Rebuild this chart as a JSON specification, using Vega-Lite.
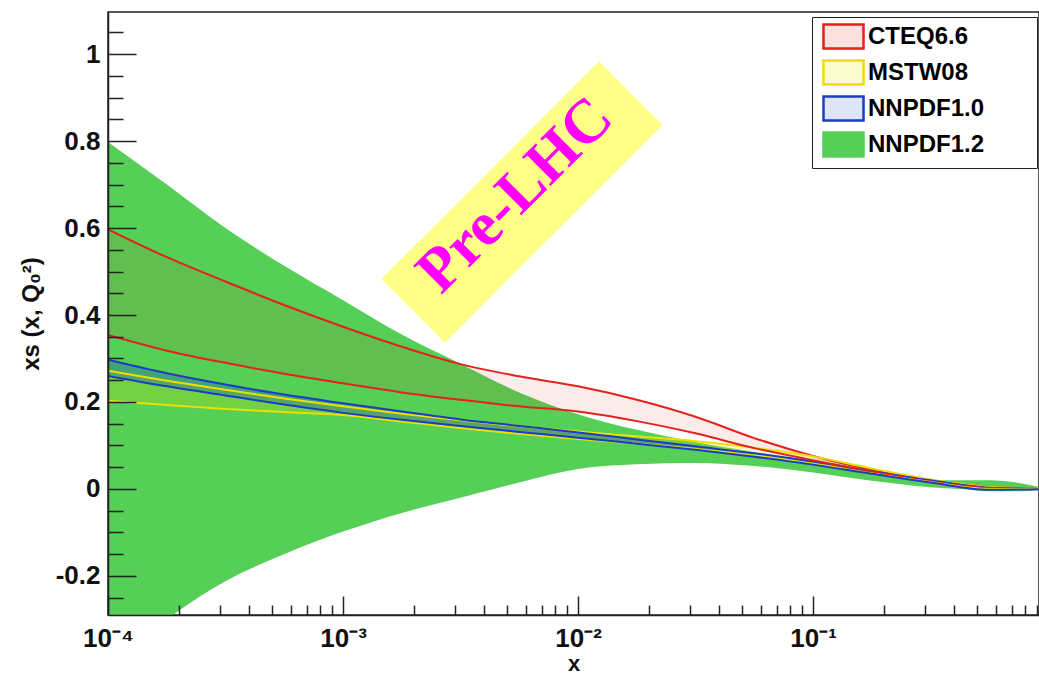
{
  "$schema": "https://vega.github.io/schema/vega-lite/v6.json",
  "width": 931,
  "height": 603,
  "autosize": {"type": "none"},
  "padding": {"left": 108, "top": 12, "right": 0, "bottom": 60},
  "background": "white",
  "config": {
    "view": {"stroke": "#222", "strokeWidth": 1.5},
    "font": "Liberation Sans",
    "legend": {
      "orient": "none", "legendX": 704, "legendY": 5,
      "padding": 6, "strokeColor": "#222", "fillColor": "#ffffff",
      "symbolSize": 576, "symbolStrokeWidth": 2.5, "symbolOffset": 12,
      "labelFont": "Liberation Sans", "labelFontWeight": "bold", "labelFontSize": 24, "labelColor": "#000",
      "labelOffset": 11, "rowPadding": 1, "labelLimit": 400
    }
  },
  "datasets": {
    "bands": [
      {"s": "CTEQ6.6", "x": 0.0001, "lo": 0.354, "hi": 0.597},
      {"s": "CTEQ6.6", "x": 0.000178, "lo": 0.318, "hi": 0.533},
      {"s": "CTEQ6.6", "x": 0.000316, "lo": 0.290, "hi": 0.477},
      {"s": "CTEQ6.6", "x": 0.000562, "lo": 0.265, "hi": 0.423},
      {"s": "CTEQ6.6", "x": 0.001, "lo": 0.243, "hi": 0.373},
      {"s": "CTEQ6.6", "x": 0.00178, "lo": 0.222, "hi": 0.327},
      {"s": "CTEQ6.6", "x": 0.00316, "lo": 0.205, "hi": 0.287},
      {"s": "CTEQ6.6", "x": 0.00562, "lo": 0.190, "hi": 0.259},
      {"s": "CTEQ6.6", "x": 0.01, "lo": 0.178, "hi": 0.236},
      {"s": "CTEQ6.6", "x": 0.0178, "lo": 0.156, "hi": 0.205},
      {"s": "CTEQ6.6", "x": 0.0316, "lo": 0.128, "hi": 0.166},
      {"s": "CTEQ6.6", "x": 0.0562, "lo": 0.094, "hi": 0.117},
      {"s": "CTEQ6.6", "x": 0.1, "lo": 0.066, "hi": 0.076},
      {"s": "CTEQ6.6", "x": 0.178, "lo": 0.040, "hi": 0.044},
      {"s": "CTEQ6.6", "x": 0.316, "lo": 0.017, "hi": 0.020},
      {"s": "CTEQ6.6", "x": 0.562, "lo": 0.002, "hi": 0.005},
      {"s": "CTEQ6.6", "x": 1, "lo": 0, "hi": 0},
      {"s": "MSTW08", "x": 0.0001, "lo": 0.203, "hi": 0.272},
      {"s": "MSTW08", "x": 0.000178, "lo": 0.193, "hi": 0.249},
      {"s": "MSTW08", "x": 0.000316, "lo": 0.184, "hi": 0.228},
      {"s": "MSTW08", "x": 0.000562, "lo": 0.177, "hi": 0.208},
      {"s": "MSTW08", "x": 0.001, "lo": 0.170, "hi": 0.190},
      {"s": "MSTW08", "x": 0.00178, "lo": 0.155, "hi": 0.173},
      {"s": "MSTW08", "x": 0.00316, "lo": 0.140, "hi": 0.158},
      {"s": "MSTW08", "x": 0.00562, "lo": 0.127, "hi": 0.144},
      {"s": "MSTW08", "x": 0.01, "lo": 0.115, "hi": 0.132},
      {"s": "MSTW08", "x": 0.0178, "lo": 0.104, "hi": 0.121},
      {"s": "MSTW08", "x": 0.0316, "lo": 0.092, "hi": 0.110},
      {"s": "MSTW08", "x": 0.0562, "lo": 0.077, "hi": 0.095},
      {"s": "MSTW08", "x": 0.1, "lo": 0.058, "hi": 0.075},
      {"s": "MSTW08", "x": 0.178, "lo": 0.036, "hi": 0.047},
      {"s": "MSTW08", "x": 0.316, "lo": 0.016, "hi": 0.022},
      {"s": "MSTW08", "x": 0.562, "lo": 0.000, "hi": 0.005},
      {"s": "MSTW08", "x": 1, "lo": 0, "hi": 0},
      {"s": "NNPDF1.0", "x": 0.0001, "lo": 0.260, "hi": 0.297},
      {"s": "NNPDF1.0", "x": 0.000178, "lo": 0.236, "hi": 0.266},
      {"s": "NNPDF1.0", "x": 0.000316, "lo": 0.215, "hi": 0.240},
      {"s": "NNPDF1.0", "x": 0.000562, "lo": 0.194, "hi": 0.217},
      {"s": "NNPDF1.0", "x": 0.001, "lo": 0.175, "hi": 0.197},
      {"s": "NNPDF1.0", "x": 0.00178, "lo": 0.159, "hi": 0.178},
      {"s": "NNPDF1.0", "x": 0.00316, "lo": 0.145, "hi": 0.160},
      {"s": "NNPDF1.0", "x": 0.00562, "lo": 0.131, "hi": 0.145},
      {"s": "NNPDF1.0", "x": 0.01, "lo": 0.118, "hi": 0.130},
      {"s": "NNPDF1.0", "x": 0.0178, "lo": 0.104, "hi": 0.114},
      {"s": "NNPDF1.0", "x": 0.0316, "lo": 0.090, "hi": 0.098},
      {"s": "NNPDF1.0", "x": 0.0562, "lo": 0.074, "hi": 0.082},
      {"s": "NNPDF1.0", "x": 0.1, "lo": 0.056, "hi": 0.063},
      {"s": "NNPDF1.0", "x": 0.178, "lo": 0.035, "hi": 0.041},
      {"s": "NNPDF1.0", "x": 0.316, "lo": 0.015, "hi": 0.020},
      {"s": "NNPDF1.0", "x": 0.562, "lo": -0.002, "hi": 0.003},
      {"s": "NNPDF1.0", "x": 1, "lo": 0, "hi": 0},
      {"s": "NNPDF1.2", "x": 0.0001, "lo": -0.42, "hi": 0.798},
      {"s": "NNPDF1.2", "x": 0.000178, "lo": -0.30, "hi": 0.700},
      {"s": "NNPDF1.2", "x": 0.000316, "lo": -0.212, "hi": 0.600},
      {"s": "NNPDF1.2", "x": 0.000562, "lo": -0.150, "hi": 0.513},
      {"s": "NNPDF1.2", "x": 0.001, "lo": -0.098, "hi": 0.434},
      {"s": "NNPDF1.2", "x": 0.00178, "lo": -0.055, "hi": 0.355},
      {"s": "NNPDF1.2", "x": 0.00316, "lo": -0.020, "hi": 0.288},
      {"s": "NNPDF1.2", "x": 0.00562, "lo": 0.015, "hi": 0.222},
      {"s": "NNPDF1.2", "x": 0.01, "lo": 0.046, "hi": 0.172},
      {"s": "NNPDF1.2", "x": 0.0178, "lo": 0.057, "hi": 0.136},
      {"s": "NNPDF1.2", "x": 0.0316, "lo": 0.060, "hi": 0.108},
      {"s": "NNPDF1.2", "x": 0.0562, "lo": 0.053, "hi": 0.085},
      {"s": "NNPDF1.2", "x": 0.1, "lo": 0.038, "hi": 0.062},
      {"s": "NNPDF1.2", "x": 0.178, "lo": 0.019, "hi": 0.040},
      {"s": "NNPDF1.2", "x": 0.316, "lo": 0.004, "hi": 0.022},
      {"s": "NNPDF1.2", "x": 0.422, "lo": 0.000, "hi": 0.020},
      {"s": "NNPDF1.2", "x": 0.562, "lo": -0.005, "hi": 0.020},
      {"s": "NNPDF1.2", "x": 0.75, "lo": -0.005, "hi": 0.014},
      {"s": "NNPDF1.2", "x": 1, "lo": -0.001, "hi": 0.0}
    ],
    "note": [{"x": 0.005777, "y": 0.6598, "label": "Pre-LHC"}]
  },
  "resolve": {"axis": {"x": "independent", "y": "independent"}},
  "layer": [
    {
      "data": {"name": "bands"},
      "transform": [{"filter": "datum.s === 'NNPDF1.2'"}],
      "mark": {"type": "area", "interpolate": "monotone", "clip": true, "opacity": 1},
      "encoding": {
        "x": {
          "field": "x", "type": "quantitative",
          "scale": {"type": "log", "domain": [0.0001, 0.9156], "nice": false},
          "axis": {
            "orient": "bottom", "values": [0.0001, 0.001, 0.01, 0.1],
            "labelExpr": "datum.value < 0.0005 ? '10⁻⁴' : datum.value < 0.005 ? '10⁻³' : datum.value < 0.05 ? '10⁻²' : '10⁻¹'",
            "labelFlush": false, "labelFont": "Liberation Sans", "labelFontWeight": "bold", "labelFontSize": 26, "labelColor": "#111",
            "labelPadding": 29, "tickSize": -19, "tickWidth": 1.5, "tickColor": "#222",
            "domainColor": "#222", "domainWidth": 1.5, "grid": false, "zindex": 2,
            "title": "x", "titleFont": "Liberation Sans", "titleFontSize": 22, "titleFontWeight": "bold", "titleColor": "#111",
            "titleY": 60, "titleBaseline": "bottom"
          }
        },
        "y": {
          "field": "lo", "type": "quantitative",
          "scale": {"domain": [-0.2897, 1.0966], "nice": false, "zero": false},
          "axis": {
            "orient": "left", "values": [-0.2, 0, 0.2, 0.4, 0.6, 0.8, 1],
            "labelExpr": "replace(format(datum.value, '~g'), '−', '-')",
            "labelFont": "Liberation Sans", "labelFontWeight": "bold", "labelFontSize": 26, "labelColor": "#111",
            "labelPadding": 36, "tickSize": -28, "tickWidth": 1.5, "tickColor": "#222",
            "domainColor": "#222", "domainWidth": 1.5, "grid": false, "zindex": 2,
            "title": "xs (x, Q₀²)", "titleFont": "Liberation Sans", "titleFontSize": 24, "titleFontWeight": "bold", "titleColor": "#111",
            "titlePadding": 12
          }
        },
        "y2": {"field": "hi"},
        "fill": {
          "field": "s", "type": "nominal",
          "scale": {"domain": ["CTEQ6.6", "MSTW08", "NNPDF1.0", "NNPDF1.2"], "range": ["#fbe2e1", "#fdfbd2", "#dfe4f7", "#55cf55"]},
          "legend": {
            "title": null,
            "symbolType": "M-1.667,-1L1.667,-1L1.667,1L-1.667,1Z",
            "labelExpr": "datum.label + '\u00a0\u00a0\u00a0\u00a0\u00a0\u00a0\u00a0\u200b'"
          }
        }
      }
    },
    {
      "data": {"name": "bands"},
      "transform": [{"filter": "datum.s !== 'NNPDF1.2'"}],
      "mark": {"type": "area", "interpolate": "monotone", "clip": true},
      "encoding": {
        "x": {
          "field": "x", "type": "quantitative",
          "axis": {
            "orient": "bottom",
            "values": [0.0002, 0.0003, 0.0004, 0.0005, 0.0006, 0.0007, 0.0008, 0.0009, 0.002, 0.003, 0.004, 0.005, 0.006, 0.007, 0.008, 0.009, 0.02, 0.03, 0.04, 0.05, 0.06, 0.07, 0.08, 0.09, 0.2, 0.3, 0.4, 0.5, 0.6, 0.7, 0.8, 0.9],
            "labels": false, "domain": false, "grid": false, "title": null,
            "tickSize": -10, "tickWidth": 1.5, "tickColor": "#222", "zindex": 2
          }
        },
        "y": {
          "field": "lo", "type": "quantitative",
          "axis": {
            "orient": "left",
            "values": [-0.25, -0.15, -0.1, -0.05, 0.05, 0.1, 0.15, 0.25, 0.3, 0.35, 0.45, 0.5, 0.55, 0.65, 0.7, 0.75, 0.85, 0.9, 0.95, 1.05],
            "labels": false, "domain": false, "grid": false, "title": null,
            "tickSize": -15, "tickWidth": 1.5, "tickColor": "#222", "zindex": 2
          }
        },
        "y2": {"field": "hi"},
        "color": {
          "field": "s", "type": "nominal", "legend": null,
          "scale": {"domain": ["CTEQ6.6", "MSTW08", "NNPDF1.0"], "range": ["#e3221c", "#ece000", "#1c3cc4"]}
        },
        "fillOpacity": {
          "field": "s", "type": "nominal", "legend": null,
          "scale": {"domain": ["CTEQ6.6", "MSTW08", "NNPDF1.0"], "range": [0.09, 0.3, 0.14]}
        }
      }
    },
    {
      "data": {"name": "bands"},
      "transform": [{"filter": "datum.s !== 'NNPDF1.2'"}],
      "mark": {"type": "line", "interpolate": "monotone", "clip": true, "strokeWidth": 2},
      "encoding": {
        "x": {"field": "x", "type": "quantitative", "axis": null},
        "y": {"field": "hi", "type": "quantitative", "axis": null},
        "stroke": {
          "field": "s", "type": "nominal",
          "scale": {"domain": ["CTEQ6.6", "MSTW08", "NNPDF1.0", "NNPDF1.2"], "range": ["#e3221c", "#ece000", "#1c3cc4", "#55cf55"]},
          "legend": {
            "title": null,
            "symbolType": "M-1.667,-1L1.667,-1L1.667,1L-1.667,1Z",
            "labelExpr": "datum.label + '\u00a0\u00a0\u00a0\u00a0\u00a0\u00a0\u00a0\u200b'"
          }
        }
      }
    },
    {
      "data": {"name": "bands"},
      "transform": [{"filter": "datum.s !== 'NNPDF1.2'"}],
      "mark": {"type": "line", "interpolate": "monotone", "clip": true, "strokeWidth": 2},
      "encoding": {
        "x": {"field": "x", "type": "quantitative", "axis": null},
        "y": {"field": "lo", "type": "quantitative", "axis": null},
        "stroke": {
          "field": "s", "type": "nominal",
          "legend": {
            "title": null,
            "symbolType": "M-1.667,-1L1.667,-1L1.667,1L-1.667,1Z",
            "labelExpr": "datum.label + '\u00a0\u00a0\u00a0\u00a0\u00a0\u00a0\u00a0\u200b'"
          }
        }
      }
    },
    {
      "data": {"name": "note"},
      "mark": {"type": "point", "shape": "M-1,-0.292L1,-0.292L1,0.292L-1,0.292Z", "size": 94864, "angle": -45, "filled": true, "fill": "#ffff88", "opacity": 1, "strokeWidth": 0},
      "encoding": {
        "x": {"field": "x", "type": "quantitative", "axis": null},
        "y": {"field": "y", "type": "quantitative", "axis": null}
      }
    },
    {
      "data": {"name": "note"},
      "mark": {"type": "text", "angle": -45, "font": "Liberation Serif", "fontWeight": "bold", "fontSize": 62, "fill": "#ff00ff", "align": "center", "baseline": "middle", "dy": -10},
      "encoding": {
        "x": {"field": "x", "type": "quantitative", "axis": null},
        "y": {"field": "y", "type": "quantitative", "axis": null},
        "text": {"field": "label"}
      }
    }
  ]
}
